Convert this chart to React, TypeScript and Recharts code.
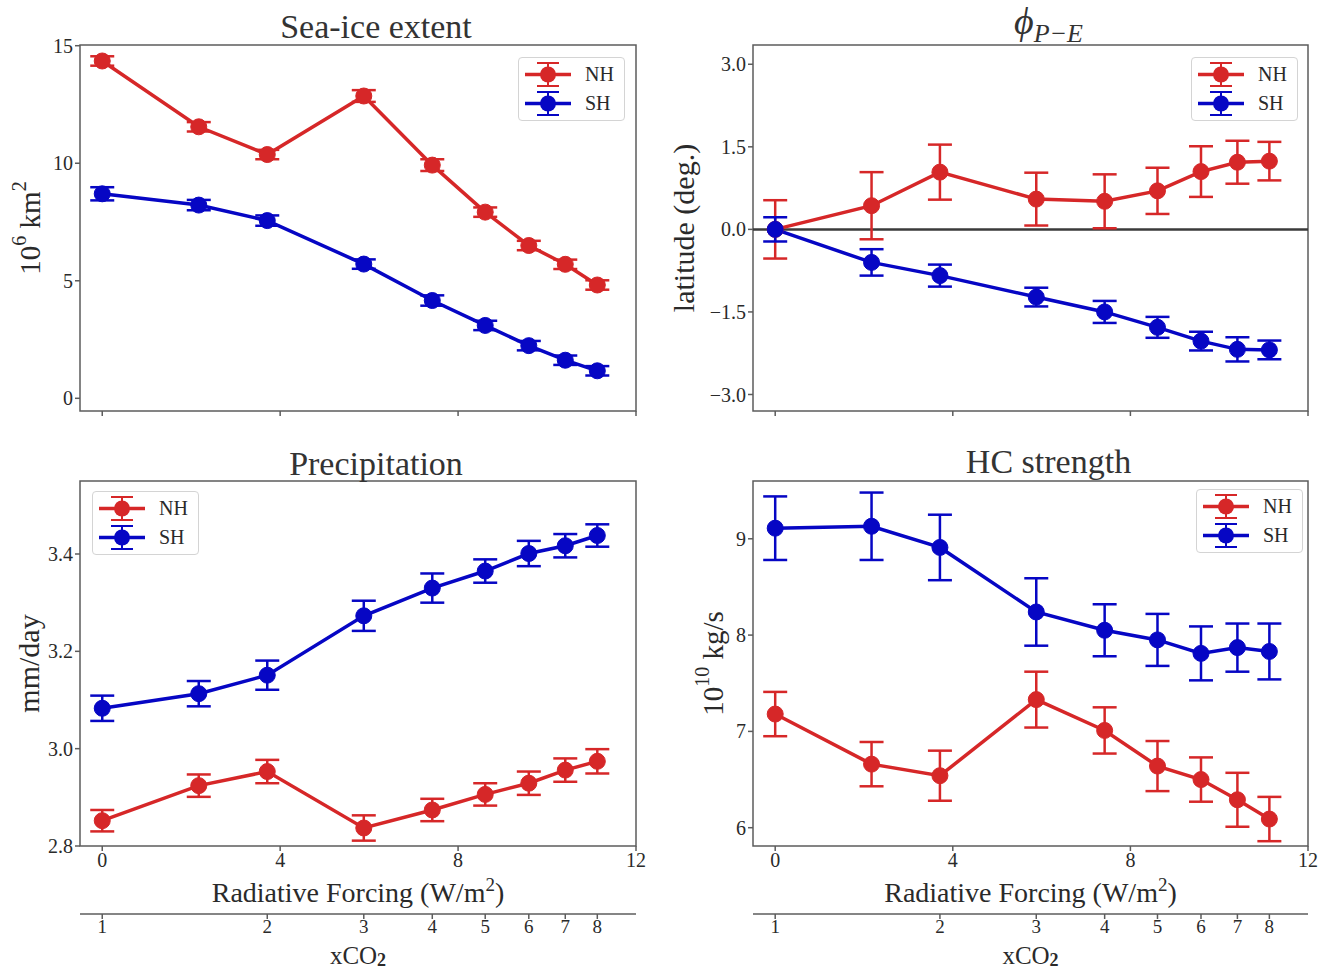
import React from 'react';
import {
  LineChart,
  Line,
  XAxis,
  YAxis,
  ErrorBar,
  ReferenceArea,
  ReferenceLine,
  Legend,
} from 'recharts';

const FONT = '"Liberation Serif", "Times New Roman", serif';
const RED = '#d62728';
const BLUE = '#0606c4';
const FRAME = '#5c5c5c';
const TEXT = '#2a2a2a';

// Radiative forcing (W/m^2) of each experiment: 1, 1.5, 2, 3, 4, 5, 6, 7, 8 x CO2
const forcing = [0, 2.17, 3.71, 5.88, 7.42, 8.61, 9.59, 10.41, 11.13];
const forcingTicks = [0, 4, 8, 12];
const X_DOMAIN: [number, number] = [-0.5, 12];

// secondary axis: CO2 multiples at their forcing positions
const co2TickForcing = [0, 3.71, 5.88, 7.42, 8.61, 9.59, 10.41, 11.13];
const co2TickLabels = ['1', '2', '3', '4', '5', '6', '7', '8'];

// Sea-ice extent (10^6 km^2)
const iceNH = [14.35, 11.55, 10.37, 12.86, 9.92, 7.92, 6.5, 5.7, 4.82];
const iceNHErr = [0.2, 0.2, 0.2, 0.25, 0.25, 0.2, 0.2, 0.2, 0.2];
const iceSH = [8.7, 8.22, 7.56, 5.71, 4.16, 3.1, 2.24, 1.62, 1.17];
const iceSHErr = [0.28, 0.22, 0.22, 0.2, 0.22, 0.2, 0.2, 0.2, 0.2];

// P-E latitude shift (deg.)
const phiNH = [0, 0.43, 1.04, 0.55, 0.51, 0.7, 1.05, 1.22, 1.24];
const phiNHErr = [0.53, 0.61, 0.5, 0.48, 0.49, 0.42, 0.46, 0.39, 0.35];
const phiSH = [0, -0.6, -0.84, -1.23, -1.5, -1.78, -2.03, -2.18, -2.19];
const phiSHErr = [0.22, 0.24, 0.2, 0.17, 0.2, 0.19, 0.17, 0.22, 0.17];

// Precipitation (mm/day)
const precipNH = [2.852, 2.924, 2.953, 2.837, 2.874, 2.906, 2.929, 2.956, 2.974];
const precipNHErr = [0.022, 0.023, 0.024, 0.026, 0.023, 0.023, 0.024, 0.024, 0.025];
const precipSH = [3.083, 3.113, 3.151, 3.273, 3.33, 3.365, 3.401, 3.417, 3.438];
const precipSHErr = [0.026, 0.026, 0.03, 0.031, 0.03, 0.024, 0.026, 0.024, 0.023];

// Hadley cell strength (10^10 kg/s)
const hcNH = [7.18, 6.66, 6.54, 7.33, 7.01, 6.64, 6.5, 6.29, 6.09];
const hcNHErr = [0.23, 0.23, 0.26, 0.29, 0.24, 0.26, 0.23, 0.28, 0.23];
const hcSH = [9.11, 9.13, 8.91, 8.24, 8.05, 7.95, 7.81, 7.87, 7.83];
const hcSHErr = [0.33, 0.35, 0.34, 0.35, 0.27, 0.27, 0.28, 0.25, 0.29];

const iceTicks = [0, 5, 10, 15];
const phiTicks = [-3, -1.5, 0, 1.5, 3];
const precipTicks = [2.8, 3.0, 3.2, 3.4];
const hcTicks = [6, 7, 8, 9];

function buildRows(nh: number[], nhErr: number[], sh: number[], shErr: number[]) {
  return forcing.map((rf, i) => ({ rf, nh: nh[i], nhErr: nhErr[i], sh: sh[i], shErr: shErr[i] }));
}

const tickStyle = { fontFamily: FONT, fontSize: 20, fill: TEXT };
const co2TickStyle = { fontFamily: FONT, fontSize: 19, fill: TEXT };

function LegendBox(props: any) {
  const items = (props.payload ?? []).filter((it: any) => it.type !== 'none');
  return (
    <div
      style={{
        background: 'rgba(255,255,255,0.9)',
        border: '1px solid #d4d4d4',
        borderRadius: 4,
        padding: '2px 10px 2px 5px',
        boxSizing: 'border-box',
      }}
    >
      {items.map((it: any) => (
        <div key={it.value} style={{ display: 'flex', alignItems: 'center', height: 29 }}>
          <svg width={48} height={29} style={{ display: 'block' }}>
            <line x1={1} x2={47} y1={14.5} y2={14.5} stroke={it.color} strokeWidth={3.5} />
            <line x1={24} x2={24} y1={3} y2={26} stroke={it.color} strokeWidth={2} />
            <line x1={13} x2={35} y1={3} y2={3} stroke={it.color} strokeWidth={2} />
            <line x1={13} x2={35} y1={26} y2={26} stroke={it.color} strokeWidth={2} />
            <circle cx={24} cy={14.5} r={8} fill={it.color} />
          </svg>
          <span style={{ marginLeft: 13, fontFamily: FONT, fontSize: 20, color: TEXT, lineHeight: '29px' }}>
            {it.value}
          </span>
        </div>
      ))}
    </div>
  );
}

type PanelProps = {
  left: number;
  top: number;
  width: number;
  height: number;
  yAxisWidth: number;
  marginTop: number;
  marginRight: number;
  rows: any[];
  yDomain: [number, number];
  yTicks: number[];
  yFormat: (v: number) => string;
  yLabel: React.ReactNode;
  yLabelX: number;
  yLabelSize: number;
  title: React.ReactNode;
  titleTop: number;
  legendLeft: number;
  legendTop: number;
  bottom: boolean;
  zeroLine?: boolean;
};

function Panel(p: PanelProps) {
  const renderYLabel = (lp: any) => {
    const vb = lp.viewBox || {};
    const cy = (vb.y ?? 0) + (vb.height ?? 0) / 2;
    return (
      <text
        x={p.yLabelX}
        y={cy}
        transform={`rotate(-90 ${p.yLabelX} ${cy})`}
        textAnchor="middle"
        dominantBaseline="central"
        fill={TEXT}
        style={{ fontFamily: FONT, fontSize: p.yLabelSize }}
      >
        {p.yLabel}
      </text>
    );
  };
  const renderXLabel = (lp: any) => {
    const vb = lp.viewBox || {};
    const cx = (vb.x ?? 0) + (vb.width ?? 0) / 2;
    return (
      <text x={cx} y={(vb.y ?? 0) + 56} textAnchor="middle" fill={TEXT} style={{ fontFamily: FONT, fontSize: 28 }}>
        Radiative Forcing (W/m
        <tspan dy={-11} fontSize={19}>
          2
        </tspan>
        <tspan dy={11}>)</tspan>
      </text>
    );
  };
  const renderCo2Label = (lp: any) => {
    const vb = lp.viewBox || {};
    const cx = (vb.x ?? 0) + (vb.width ?? 0) / 2;
    return (
      <text x={cx} y={(vb.y ?? 0) + 50} textAnchor="middle" fill={TEXT} style={{ fontFamily: FONT, fontSize: 25 }}>
        xCO
        <tspan dy={2} fontSize={18} fontWeight="bold">
          2
        </tspan>
      </text>
    );
  };

  const plotLeft = p.yAxisWidth;
  const plotWidth = p.width - p.yAxisWidth - p.marginRight;

  return (
    <div style={{ position: 'absolute', left: p.left, top: p.top, width: p.width, height: p.height }}>
      <LineChart
        width={p.width}
        height={p.height}
        data={p.rows}
        margin={{ top: p.marginTop, right: p.marginRight, bottom: 0, left: 0 }}
      >
        <XAxis
          dataKey="rf"
          type="number"
          domain={X_DOMAIN}
          allowDataOverflow
          ticks={forcingTicks}
          interval={0}
          tickFormatter={p.bottom ? (v: number) => String(v) : () => ''}
          tick={tickStyle}
          tickLine={{ stroke: FRAME, strokeWidth: 1.5 }}
          tickSize={5}
          axisLine={false}
          height={p.bottom ? 68 : 29}
          label={p.bottom ? renderXLabel : undefined}
        />
        {p.bottom && (
          <XAxis
            xAxisId="co2"
            dataKey="rf"
            type="number"
            domain={X_DOMAIN}
            allowDataOverflow
            ticks={co2TickForcing}
            interval={0}
            tickFormatter={(v: number) => co2TickLabels[co2TickForcing.indexOf(v)] ?? ''}
            tick={co2TickStyle}
            tickLine={{ stroke: FRAME, strokeWidth: 1.5 }}
            tickSize={5}
            tickMargin={1}
            axisLine={{ stroke: FRAME, strokeWidth: 1.5 }}
            height={56}
            label={renderCo2Label}
          />
        )}
        <YAxis
          type="number"
          domain={p.yDomain}
          allowDataOverflow
          ticks={p.yTicks}
          interval={0}
          tickFormatter={p.yFormat}
          tick={tickStyle}
          tickLine={{ stroke: FRAME, strokeWidth: 1.5 }}
          tickSize={5}
          axisLine={false}
          width={p.yAxisWidth}
          label={renderYLabel}
        />
        <ReferenceArea
          x1={X_DOMAIN[0]}
          x2={X_DOMAIN[1]}
          y1={p.yDomain[0]}
          y2={p.yDomain[1]}
          fill="none"
          fillOpacity={0}
          stroke={FRAME}
          strokeWidth={1.5}
        />
        {p.zeroLine && <ReferenceLine y={0} stroke="#3a3a3a" strokeWidth={2.5} />}
        {p.bottom && (
          // invisible series that ties the xCO2 scale to the forcing values
          <Line
            xAxisId="co2"
            dataKey="nh"
            stroke="none"
            dot={false}
            activeDot={false}
            legendType="none"
            isAnimationActive={false}
          />
        )}
        <Line
          dataKey="nh"
          name="NH"
          stroke={RED}
          strokeWidth={3.5}
          dot={{ r: 8, fill: RED, stroke: RED, strokeWidth: 1 }}
          activeDot={false}
          isAnimationActive={false}
        >
          <ErrorBar dataKey="nhErr" width={12} stroke={RED} strokeWidth={2.5} direction="y" />
        </Line>
        <Line
          dataKey="sh"
          name="SH"
          stroke={BLUE}
          strokeWidth={3.5}
          dot={{ r: 8, fill: BLUE, stroke: BLUE, strokeWidth: 1 }}
          activeDot={false}
          isAnimationActive={false}
        >
          <ErrorBar dataKey="shErr" width={12} stroke={BLUE} strokeWidth={2.5} direction="y" />
        </Line>
        <Legend
          layout="vertical"
          align="center"
          verticalAlign="middle"
          content={<LegendBox />}
          wrapperStyle={{ left: p.legendLeft, top: p.legendTop, width: 'auto', height: 'auto', right: 'auto', bottom: 'auto' }}
        />
      </LineChart>
      <div
        style={{
          position: 'absolute',
          left: plotLeft + 18,
          width: plotWidth,
          top: p.titleTop,
          textAlign: 'center',
          fontFamily: FONT,
          fontSize: 34,
          lineHeight: '38px',
          color: '#333',
          whiteSpace: 'nowrap',
        }}
      >
        {p.title}
      </div>
    </div>
  );
}

const fmtInt = (v: number) => String(v);
const fmtOne = (v: number) => (v < 0 ? '\u2212' + Math.abs(v).toFixed(1) : v.toFixed(1));

export default function App() {
  return (
    <div style={{ position: 'absolute', left: 0, top: 0, width: 1319, height: 970, background: '#fff', overflow: 'hidden' }}>
      <Panel
        left={0}
        top={0}
        width={660}
        height={440}
        yAxisWidth={80}
        marginTop={45}
        marginRight={24}
        rows={buildRows(iceNH, iceNHErr, iceSH, iceSHErr)}
        yDomain={[-0.54, 15.03]}
        yTicks={iceTicks}
        yFormat={fmtInt}
        yLabel={
          <>
            10
            <tspan dy={-11} fontSize={20}>
              6
            </tspan>
            <tspan dy={11}> km</tspan>
            <tspan dy={-11} fontSize={20}>
              2
            </tspan>
          </>
        }
        yLabelX={30}
        yLabelSize={29}
        title="Sea-ice extent"
        titleTop={8}
        legendLeft={518}
        legendTop={57}
        bottom={false}
      />
      <Panel
        left={660}
        top={0}
        width={659}
        height={440}
        yAxisWidth={93}
        marginTop={45}
        marginRight={11}
        rows={buildRows(phiNH, phiNHErr, phiSH, phiSHErr)}
        yDomain={[-3.3, 3.35]}
        yTicks={phiTicks}
        yFormat={fmtOne}
        yLabel="latitude (deg.)"
        yLabelX={23}
        yLabelSize={30}
        title={
          <span>
            <i style={{ fontSize: 38 }}>{'\u03D5'}</i>
            <i style={{ fontSize: 26, position: 'relative', top: 8 }}>P{'\u2212'}E</i>
          </span>
        }
        titleTop={2}
        legendLeft={531}
        legendTop={57}
        bottom={false}
        zeroLine
      />
      <Panel
        left={0}
        top={440}
        width={660}
        height={530}
        yAxisWidth={80}
        marginTop={41}
        marginRight={24}
        rows={buildRows(precipNH, precipNHErr, precipSH, precipSHErr)}
        yDomain={[2.8, 3.55]}
        yTicks={precipTicks}
        yFormat={(v: number) => v.toFixed(1)}
        yLabel="mm/day"
        yLabelX={28}
        yLabelSize={30}
        title="Precipitation"
        titleTop={5}
        legendLeft={92}
        legendTop={51}
        bottom
      />
      <Panel
        left={660}
        top={440}
        width={659}
        height={530}
        yAxisWidth={93}
        marginTop={41}
        marginRight={11}
        rows={buildRows(hcNH, hcNHErr, hcSH, hcSHErr)}
        yDomain={[5.81, 9.6]}
        yTicks={hcTicks}
        yFormat={fmtInt}
        yLabel={
          <>
            10
            <tspan dy={-11} fontSize={20}>
              10
            </tspan>
            <tspan dy={11}> kg/s</tspan>
          </>
        }
        yLabelX={53}
        yLabelSize={29}
        title="HC strength"
        titleTop={3}
        legendLeft={536}
        legendTop={49}
        bottom
      />
    </div>
  );
}
